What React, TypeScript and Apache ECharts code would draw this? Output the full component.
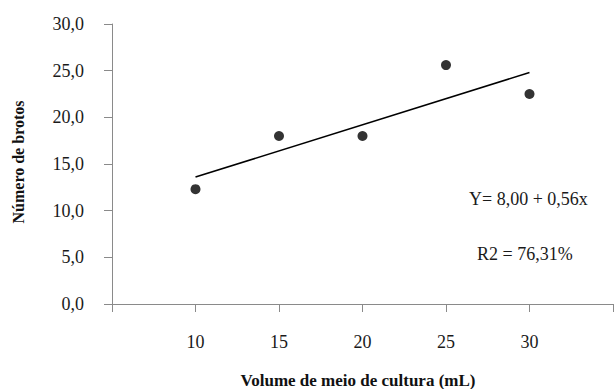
import React, { useEffect, useRef } from "react";
import * as echarts from "echarts";

const volumes = [10, 15, 20, 25, 30];
const brotos = [12.3, 18.0, 18.0, 25.6, 22.5];
const trendX = [10, 30];
const trendY = [13.6, 24.8];
const yTicks = [0, 5, 10, 15, 20, 25, 30];
const xTickLabels = [10, 15, 20, 25, 30];
const equationText = "Y= 8,00 + 0,56x";
const r2Text = "R2 = 76,31%";
const xTitle = "Volume de meio de cultura (mL)";
const yTitle = "Número de brotos";

const FONT = "Liberation Serif";

export default function App() {
  const ref = useRef<HTMLDivElement>(null);
  useEffect(() => {
    if (!ref.current) return;
    const chart = echarts.init(ref.current, null, { renderer: "svg" });
    chart.setOption({
      animation: false,
      backgroundColor: "#ffffff",
      textStyle: { fontFamily: FONT },
      grid: { left: 112, top: 24, right: 0, bottom: 85, containLabel: false },
      xAxis: {
        type: "value",
        min: 5,
        max: 35,
        interval: 5,
        axisLine: { show: true, onZero: false, lineStyle: { color: "#8a8a8a", width: 1 } },
        axisTick: { show: true, inside: false, length: 8, lineStyle: { color: "#8a8a8a" } },
        splitLine: { show: false },
        axisLabel: {
          margin: 29,
          color: "#1a1a1a",
          fontFamily: FONT,
          fontSize: 18,
          formatter: (v: number) => (xTickLabels.includes(v) ? String(v) : ""),
        },
      },
      yAxis: {
        type: "value",
        min: yTicks[0],
        max: yTicks[yTicks.length - 1],
        interval: 5,
        axisLine: { show: true, lineStyle: { color: "#8a8a8a", width: 1 } },
        axisTick: { show: true, inside: false, length: 8, lineStyle: { color: "#8a8a8a" } },
        splitLine: { show: false },
        axisLabel: {
          margin: 28,
          color: "#1a1a1a",
          fontFamily: FONT,
          fontSize: 18,
          formatter: (v: number) => v.toFixed(1).replace(".", ","),
        },
      },
      series: [
        {
          type: "line",
          data: trendX.map((x, i) => [x, trendY[i]]),
          symbol: "none",
          lineStyle: { color: "#000", width: 1.6 },
          z: 2,
        },
        {
          type: "scatter",
          data: volumes.map((x, i) => [x, brotos[i]]),
          symbol: "circle",
          symbolSize: 10,
          itemStyle: { color: "#000" },
          z: 3,
        },
      ],
      graphic: [
        {
          type: "text",
          x: 358,
          y: 380,
          style: {
            text: xTitle,
            fontFamily: FONT,
            fontWeight: "bold",
            fontSize: 17,
            fill: "#111",
            align: "center",
            verticalAlign: "middle",
          },
        },
        {
          type: "text",
          x: 18,
          y: 162,
          rotation: Math.PI / 2,
          style: {
            text: yTitle,
            fontFamily: FONT,
            fontWeight: "bold",
            fontSize: 16,
            fill: "#111",
            align: "center",
            verticalAlign: "middle",
          },
        },
        {
          type: "text",
          x: 469,
          y: 199,
          style: { text: equationText, fontFamily: FONT, fontSize: 18, fill: "#1a1a1a", verticalAlign: "middle" },
        },
        {
          type: "text",
          x: 477,
          y: 254,
          style: { text: r2Text, fontFamily: FONT, fontSize: 18, fill: "#1a1a1a", verticalAlign: "middle" },
        },
      ],
    });
    return () => chart.dispose();
  }, []);
  return <div ref={ref} style={{ width: 616, height: 389, position: "absolute", left: 0, top: 0 }} />;
}
